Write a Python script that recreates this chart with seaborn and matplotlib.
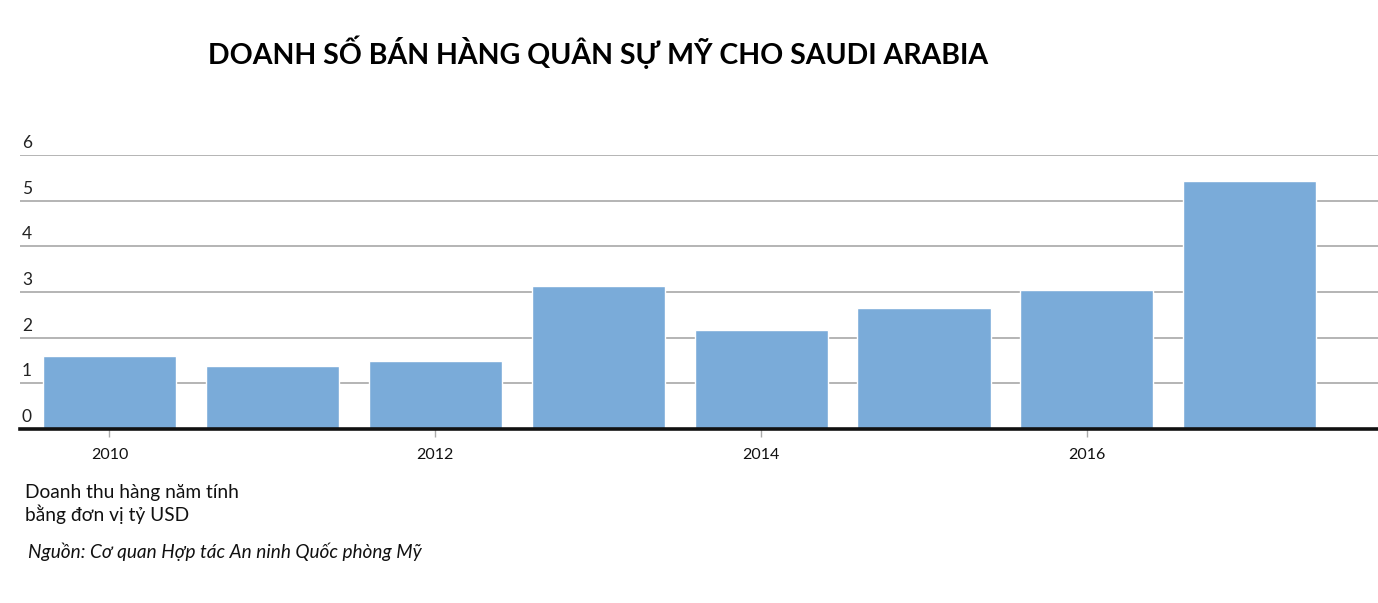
import matplotlib
matplotlib.use("Agg")
import matplotlib.pyplot as plt
import matplotlib.transforms as mtransforms
import seaborn as sns
import pandas as pd

years = [2010, 2011, 2012, 2013, 2014, 2015, 2016, 2017]
sales = [1.59, 1.37, 1.50, 3.14, 2.16, 2.65, 3.05, 5.44]
y_ticks = [0, 1, 2, 3, 4, 5, 6]
x_tick_years = [2010, 2012, 2014, 2016]

title = "DOANH SỐ BÁN HÀNG QUÂN SỰ MỸ CHO SAUDI ARABIA"
note = "Doanh thu hàng năm tính\nbằng đơn vị tỷ USD"
source = "Nguồn: Cơ quan Hợp tác An ninh Quốc phòng Mỹ"

sns.set_theme(style="white")
plt.rcParams['font.family'] = ['Lato', 'DejaVu Sans']

df = pd.DataFrame({"year": [str(y) for y in years], "sales": sales})

fig = plt.figure(figsize=(13.78, 6.03), dpi=100)
ax = fig.add_axes([20/1378, 1 - 429/603, 1 - 20/1378, (429 - 155)/603])

sns.barplot(data=df, x="year", y="sales", color="#7aabd9", saturation=1,
            width=0.817, ax=ax, zorder=3)

ax.set_ylim(0, 6)
ax.set_xlim(-0.549, 7.787)
for v in y_ticks[1:]:
    ax.axhline(v, color="#b4b4b4", lw=1.4, zorder=1)

for s in ["top", "right", "left"]:
    ax.spines[s].set_visible(False)
ax.spines["bottom"].set_color("#111111")
ax.spines["bottom"].set_linewidth(2.6)
ax.spines["bottom"].set_zorder(5)

ax.set_yticks([])
trans = mtransforms.blended_transform_factory(ax.transAxes, ax.transData)
offset = mtransforms.ScaledTranslation(0, 4/100, fig.dpi_scale_trans)
for v in y_ticks:
    ax.text(2/1358, v, str(v), transform=trans + offset, ha="left", va="bottom",
            fontsize=12.5, color="#222222")

str_years = [str(y) for y in years]
ax.set_xticks([str_years.index(str(y)) for y in x_tick_years])
ax.set_xticklabels([str(y) for y in x_tick_years], fontsize=11.5, color="#111111")
ax.tick_params(axis="x", length=6, width=1, color="#aaaaaa", pad=8, bottom=True)
ax.set_xlabel("")
ax.set_ylabel("")

fig.text(208/1378, 1 - 52/603, title, ha="left", va="center",
         fontsize=20.5, fontweight="bold", color="#000000")
fig.text(25/1378, 1 - 484/603, note, ha="left", va="top",
         fontsize=13.8, color="#111111", linespacing=1.2)
fig.text(28/1378, 1 - 552/603, source, ha="left", va="center",
         fontsize=13.7, style="italic", color="#111111")

fig.savefig("out.png", dpi=100)
